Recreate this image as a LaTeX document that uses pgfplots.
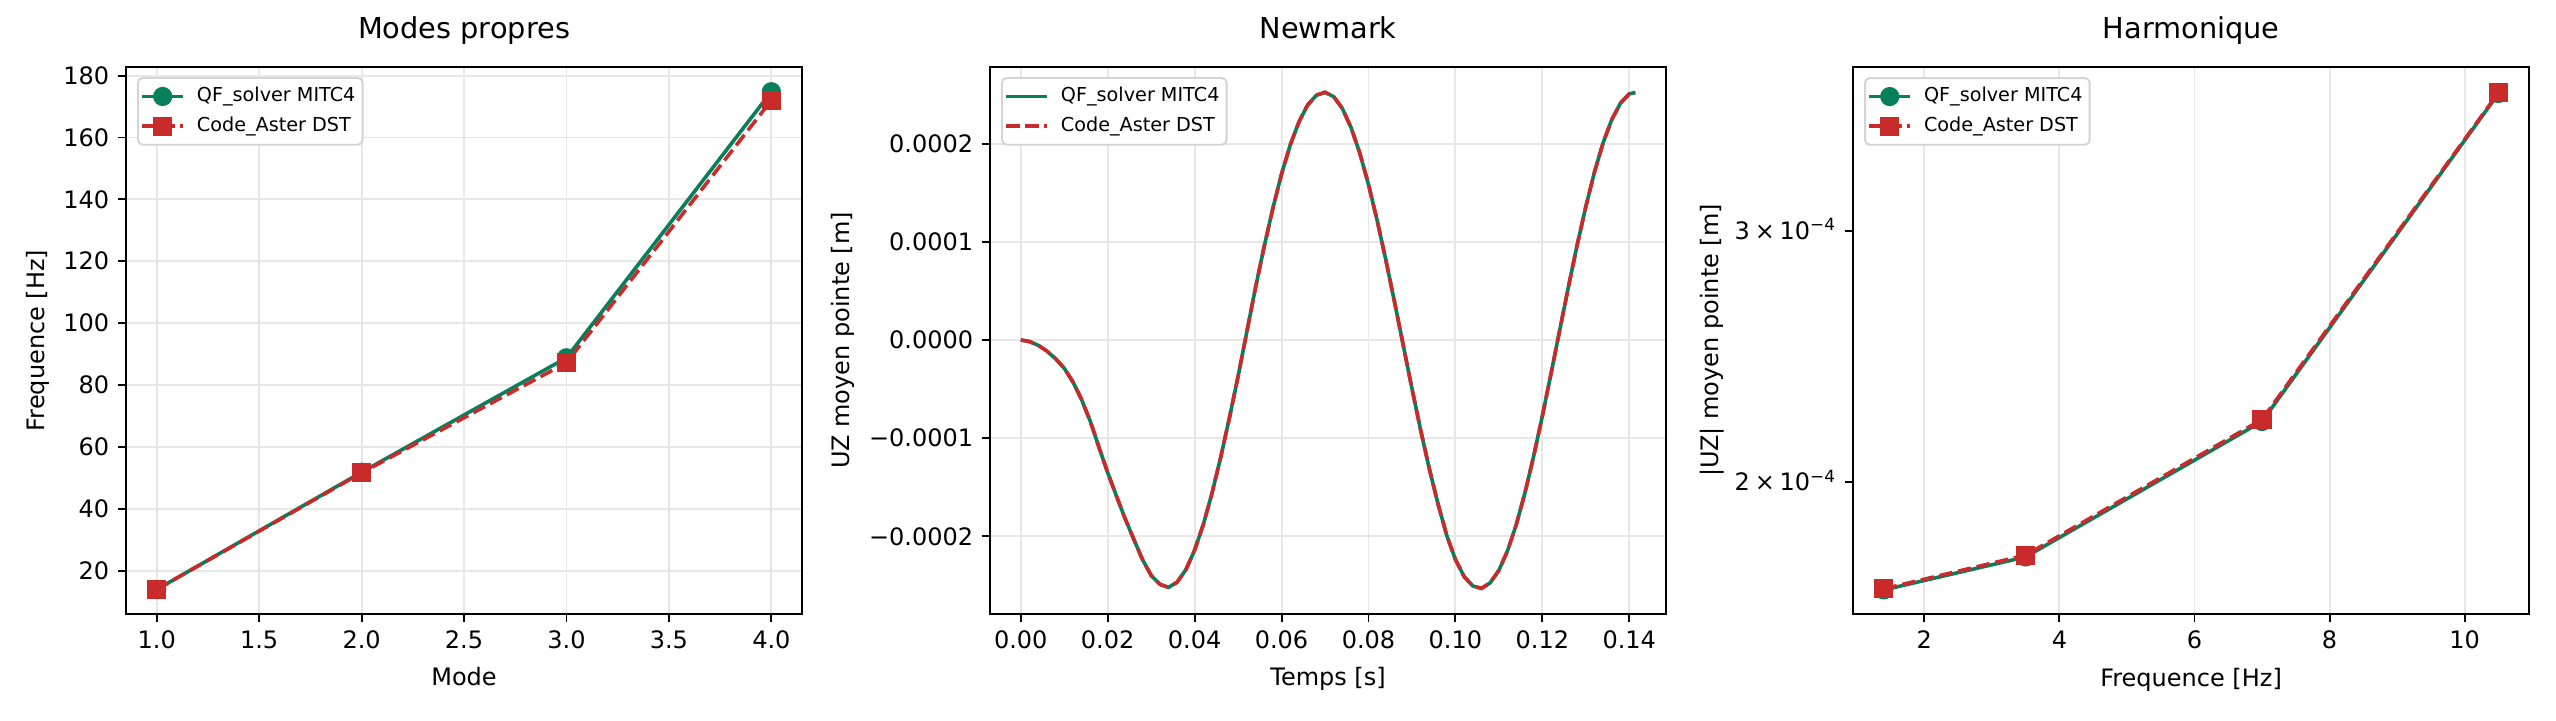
\documentclass[border=0pt]{standalone}
\usepackage{fontspec}
\setmainfont{DejaVu Sans}
\usepackage{pgfplots}
\pgfplotsset{compat=1.18}

\definecolor{qfgreen}{HTML}{087F5B}
\definecolor{astred}{HTML}{C92A2A}
\definecolor{gridgray}{HTML}{E7E7E7}
\definecolor{legframe}{HTML}{D4D4D4}

% Newmark time history (t [s], UZ [m])
\pgfplotstableread{
t u
0.000 0
0.002 -0.016e-4
0.004 -0.054e-4
0.006 -0.113e-4
0.008 -0.190e-4
0.010 -0.288e-4
0.012 -0.426e-4
0.014 -0.607e-4
0.016 -0.828e-4
0.018 -1.094e-4
0.020 -1.350e-4
0.022 -1.588e-4
0.024 -1.818e-4
0.026 -2.029e-4
0.028 -2.235e-4
0.030 -2.398e-4
0.032 -2.488e-4
0.034 -2.520e-4
0.036 -2.466e-4
0.038 -2.339e-4
0.040 -2.141e-4
0.042 -1.880e-4
0.044 -1.561e-4
0.046 -1.196e-4
0.048 -0.796e-4
0.050 -0.371e-4
0.052 0.080e-4
0.054 0.530e-4
0.056 0.950e-4
0.058 1.340e-4
0.060 1.690e-4
0.062 1.985e-4
0.064 2.220e-4
0.066 2.392e-4
0.068 2.492e-4
0.070 2.522e-4
0.072 2.478e-4
0.074 2.356e-4
0.076 2.162e-4
0.078 1.903e-4
0.080 1.584e-4
0.082 1.216e-4
0.084 0.813e-4
0.086 0.385e-4
0.088 -0.055e-4
0.090 -0.494e-4
0.092 -0.918e-4
0.094 -1.313e-4
0.096 -1.670e-4
0.098 -1.990e-4
0.100 -2.235e-4
0.102 -2.410e-4
0.104 -2.505e-4
0.106 -2.530e-4
0.108 -2.473e-4
0.110 -2.346e-4
0.112 -2.147e-4
0.114 -1.881e-4
0.116 -1.557e-4
0.118 -1.185e-4
0.120 -0.776e-4
0.122 -0.343e-4
0.124 0.100e-4
0.126 0.540e-4
0.128 0.964e-4
0.130 1.357e-4
0.132 1.711e-4
0.134 2.010e-4
0.136 2.246e-4
0.138 2.413e-4
0.140 2.506e-4
0.1414 2.520e-4
}\newmark

\pgfplotsset{
  mpl/.style={
    scale only axis, width=281.7pt, height=227.9pt,
    anchor=south west,
    font=\fontsize{10}{12}\selectfont,
    axis line style={line width=0.8pt},
    tick align=outside, tick pos=left,
    major tick length=3.5pt,
    every tick/.style={black, line width=0.8pt},
    grid style={gridgray, line width=0.8pt},
    xminorticks=false, yminorticks=false,
    scaled x ticks=false, scaled y ticks=false,
    title style={font=\fontsize{12}{14.4}\selectfont,
      at={([yshift=6pt]axis description cs:0.5,1)}, anchor=base},
    xlabel style={at={([yshift=-18.9pt]axis description cs:0.5,0)}, anchor=north},
    legend cell align=left,
    legend style={
      at={([xshift=4.6pt,yshift=-4.2pt]axis description cs:0,1)}, anchor=north west,
      draw=legframe, line width=0.8pt, rounded corners=2pt, fill=white,
      font=\fontsize{8}{9.6}\selectfont,
      inner xsep=1pt, inner ysep=1.5pt, row sep=0pt,
      nodes={inner ysep=2.2pt, text height=6.1pt, text depth=1.9pt},
      /tikz/every odd column/.style={column sep=3pt},
    },
  },
  qf/.style={qfgreen, line width=1.5pt},
  ast/.style={astred, line width=1.5pt, dash pattern=on 5.55pt off 2.4pt},
}

\begin{document}
\begin{tikzpicture}
\path[use as bounding box] (0,0) rectangle (1065pt,300pt);

% ---- Modes propres
\begin{axis}[mpl, at={(52.5pt,44.2pt)},
  title={Modes propres}, xlabel={Mode}, ylabel={Frequence [Hz]},
  ylabel style={at={([xshift=-36.7pt]axis description cs:0,0.5)}, anchor=center},
  xmin=0.85, xmax=4.15, ymin=6.0, ymax=182.8,
  xtick={1,1.5,2,2.5,3,3.5,4},
  xticklabels={1.0,1.5,2.0,2.5,3.0,3.5,4.0},
  ytick={20,40,60,80,100,120,140,160,180},
  yticklabels={20,40,60,80,100,120,140,160,180},
  xmajorgrids, ymajorgrids,
]
\addplot[qf, mark=*, mark size=3.5pt, mark options={solid, line width=1pt}]
  coordinates {(1,13.9)(2,51.8)(3,88.8)(4,174.8)};
\addlegendentry{QF\_solver MITC4}
\addplot[ast, mark=square*, mark size=3.5pt, mark options={solid, line width=1pt}]
  coordinates {(1,13.9)(2,51.6)(3,87.2)(4,172.0)};
\addlegendentry{Code\_Aster DST}
\end{axis}

% ---- Newmark
\begin{axis}[mpl, at={(412.5pt,44.2pt)},
  title={Newmark}, xlabel={Temps [s]}, ylabel={UZ moyen pointe [m]},
  ylabel style={at={([xshift=-61.5pt]axis description cs:0,0.5)}, anchor=center},
  xmin=-0.00707, xmax=0.14847, ymin=-2.79e-4, ymax=2.78e-4,
  xtick={0,0.02,0.04,0.06,0.08,0.10,0.12,0.14},
  xticklabels={0.00,0.02,0.04,0.06,0.08,0.10,0.12,0.14},
  ytick={-2e-4,-1e-4,0,1e-4,2e-4},
  yticklabels={−0.0002,−0.0001,0.0000,0.0001,0.0002},
  xmajorgrids, ymajorgrids,
]
\addplot[qf, no markers] table[x=t, y=u] {\newmark};
\addlegendentry{QF\_solver MITC4}
\addplot[ast, no markers] table[x=t, y=u] {\newmark};
\addlegendentry{Code\_Aster DST}
\end{axis}

% ---- Harmonique
\begin{axis}[mpl, at={(772.1pt,44.2pt)},
  title={Harmonique}, xlabel={Frequence [Hz]}, ylabel={|UZ| moyen pointe [m]},
  ylabel style={at={([xshift=-58.8pt]axis description cs:0,0.5)}, anchor=center},
  ymode=log,
  xmin=0.945, xmax=10.955, ymin=1.616e-4, ymax=3.909e-4,
  xtick={2,4,6,8,10}, xticklabels={2,4,6,8,10},
  ytick={2e-4,3e-4},
  yticklabels={2\hspace{0.2em}×\hspace{0.2em}10\textsuperscript{−4},3\hspace{0.2em}×\hspace{0.2em}10\textsuperscript{−4}},
  yticklabel style={anchor=base east, yshift=-3.65pt},
  xmajorgrids,
]
\addplot[qf, mark=*, mark size=3.5pt, mark options={solid, line width=1pt}]
  coordinates {(1.4,1.680e-4)(3.5,1.772e-4)(7.0,2.205e-4)(10.5,3.745e-4)};
\addlegendentry{QF\_solver MITC4}
\addplot[ast, mark=square*, mark size=3.5pt, mark options={solid, line width=1pt}]
  coordinates {(1.4,1.683e-4)(3.5,1.777e-4)(7.0,2.212e-4)(10.5,3.750e-4)};
\addlegendentry{Code\_Aster DST}
\end{axis}
\end{tikzpicture}
\end{document}
